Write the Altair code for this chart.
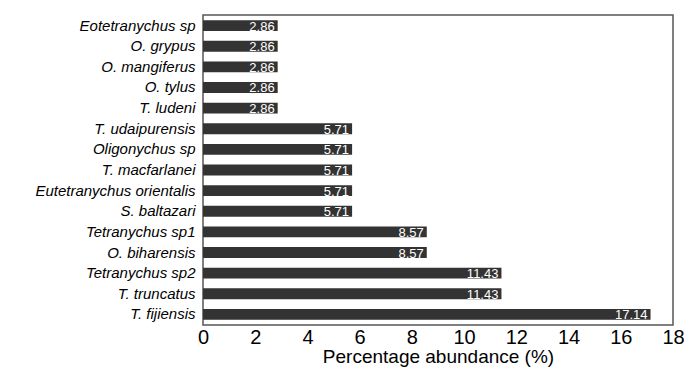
import altair as alt
import pandas as pd

species = ["Eotetranychus sp", "O. grypus", "O. mangiferus", "O. tylus", "T. ludeni",
           "T. udaipurensis", "Oligonychus sp", "T. macfarlanei", "Eutetranychus orientalis",
           "S. baltazari", "Tetranychus sp1", "O. biharensis", "Tetranychus sp2",
           "T. truncatus", "T. fijiensis"]
abundance = [2.86, 2.86, 2.86, 2.86, 2.86, 5.71, 5.71, 5.71, 5.71, 5.71,
             8.57, 8.57, 11.43, 11.43, 17.14]

df = pd.DataFrame({"species": species, "abundance": abundance,
                   "label": [f"{v:.2f}" for v in abundance]})

FONT = "Liberation Sans"

y = alt.Y("species:N", sort=species, title=None,
          scale=alt.Scale(paddingInner=0.47, paddingOuter=0.25),
          axis=alt.Axis(labelFont=FONT, labelFontSize=15, labelFontStyle="italic",
                        labelColor="black", ticks=False, domain=False, labelPadding=8,
                        labelLimit=300))
x = alt.X("abundance:Q", title="Percentage abundance (%)",
          scale=alt.Scale(domain=[0, 18], nice=False),
          axis=alt.Axis(values=list(range(0, 19, 2)), labelFont=FONT, labelFontSize=20,
                        labelColor="black", titleFont=FONT, titleFontSize=19,
                        titleFontWeight="normal", titleColor="black", ticks=False,
                        domain=False, grid=False, labelPadding=2, titlePadding=0,
                        labelFlush=False))

bars = alt.Chart(df).mark_bar(color="#333333").encode(x=x, y=y)
text = alt.Chart(df).mark_text(align="right", baseline="middle", dx=-3, dy=1,
                               color="white", font=FONT, fontSize=13).encode(
    x="abundance:Q", y=alt.Y("species:N", sort=species), text="label:N")

chart = (bars + text).properties(
    width=470, height=310,
    padding={"left": 195, "top": 7, "right": 13, "bottom": 43},
    autosize=alt.AutoSizeParams(type="none"),
).configure_view(stroke="#555555", strokeWidth=1.5).configure_axis(grid=False)

chart.save("out.html", embed_options={"renderer": "svg", "actions": False})
